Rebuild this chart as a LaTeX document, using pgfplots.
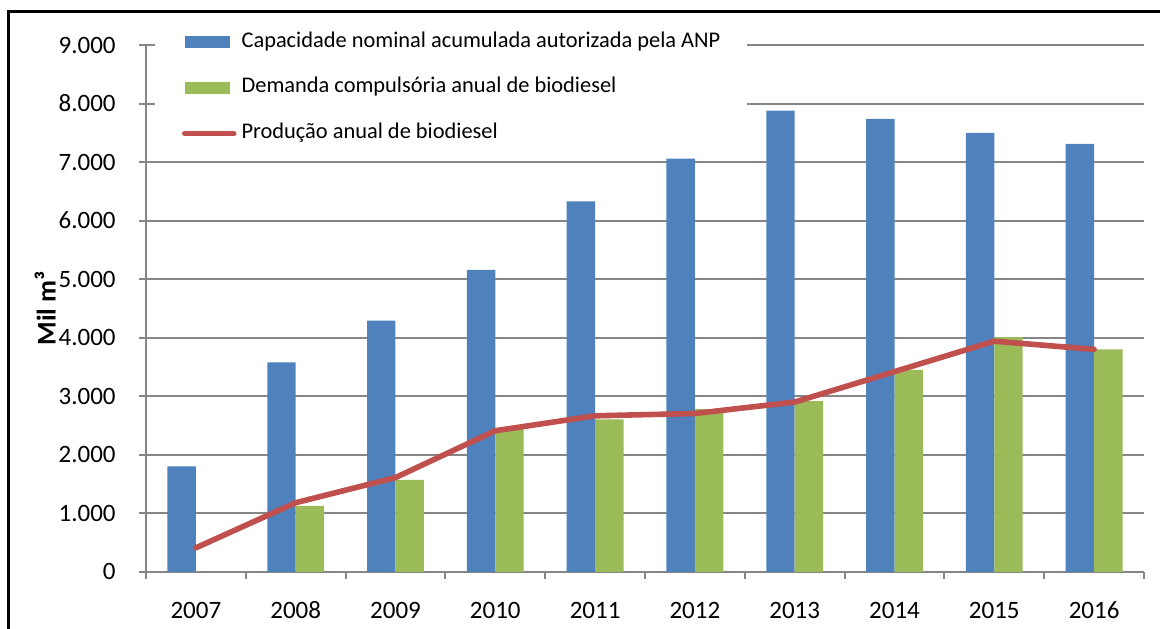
\documentclass[border=0pt]{standalone}
\usepackage{fontspec}
\setmainfont{Carlito}
\usepackage{pgfplots}
\pgfplotsset{compat=1.18}
\definecolor{capblue}{RGB}{79,129,189}
\definecolor{demgreen}{RGB}{155,187,89}
\definecolor{prodred}{RGB}{192,80,77}
\definecolor{axgray}{RGB}{134,134,134}

\begin{document}
\begin{tikzpicture}
\begin{axis}[
    at={(0,0)}, anchor=south west,
    scale only axis,
    width=499pt, height=263.4pt,
    xmin=-0.5, xmax=9.5,
    ymin=0, ymax=9000,
    axis lines=left,
    axis line style={-, draw=axgray, line width=1pt},
    xtick={0,...,9},
    xticklabels={2007,2008,2009,2010,2011,2012,2013,2014,2015,2016},
    minor xtick={-0.5,0.5,...,9.5},
    ytick={0,1000,...,9000},
    yticklabels={0,1.000,2.000,3.000,4.000,5.000,6.000,7.000,8.000,9.000},
    tick align=center,
    major tick length=7pt,
    minor tick length=3.5pt,
    major x tick style={draw=none},
    minor x tick style={draw=axgray, line width=1pt, yshift=-1.75pt},
    y tick style={draw=axgray, line width=1pt},
    ymajorgrids=true,
    major grid style={draw=axgray, line width=1pt},
    tick label style={font=\fontsize{12.5}{14}\selectfont, text=black},
    yticklabel style={inner sep=0pt, xshift=-11.5pt},
    xticklabel style={inner sep=0pt, text height=7.9pt, text depth=0pt, yshift=-11.5pt},
    ylabel={Mil m³},
    every axis y label/.style={at={(axis description cs:-0.1012,0.5)}, rotate=90, anchor=center,
        font=\fontsize{13.5}{15}\selectfont\bfseries},
    legend cell align=left,
    legend style={
        at={(axis description cs:0.009,1.0418)}, anchor=north west,
        fill=white, draw=none,
        inner xsep=13.3pt, inner ysep=4pt,
        row sep=11.8pt, column sep=2.5pt,
        nodes={inner sep=0pt, text height=8pt, text depth=3pt},
        font=\fontsize{11.2}{13}\selectfont,
    },
]
% capacidade nominal
\addplot[ybar, bar width=0.285, bar shift=-0.1425, fill=capblue, draw=none,
    legend image code/.code={\fill[capblue] (0pt,-3pt) rectangle (22.5pt,3pt);}]
coordinates {(0,1800) (1,3580) (2,4290) (3,5160) (4,6330) (5,7060) (6,7880) (7,7740) (8,7500) (9,7310)};
% demanda compulsoria
\addplot[ybar, bar width=0.285, bar shift=0.1425, fill=demgreen, draw=none,
    legend image code/.code={\fill[demgreen] (0pt,-3pt) rectangle (22.5pt,3pt);}]
coordinates {(1,1125) (2,1570) (3,2450) (4,2605) (5,2780) (6,2915) (7,3450) (8,4010) (9,3800)};
% producao anual
\addplot[prodred, line width=2.8pt, line cap=round, line join=round, mark=none,
    legend image code/.code={\draw[prodred, line width=2.8pt, line cap=round] (0pt,0pt) -- (24.5pt,0pt);}]
coordinates {(0,410) (1,1180) (2,1610) (3,2410) (4,2665) (5,2705) (6,2900) (7,3420) (8,3940) (9,3800)};
\legend{Capacidade nominal acumulada autorizada pela ANP,Demanda compulsória anual de biodiesel,Produção anual de biodiesel}
\end{axis}
\draw[line width=1.5pt] (-68.65pt,-40pt) rectangle (520pt,280.05pt);
\pgfresetboundingbox
\path[use as bounding box] (-73pt,-28.1pt) rectangle (507pt,285.9pt);
\end{tikzpicture}
\end{document}
